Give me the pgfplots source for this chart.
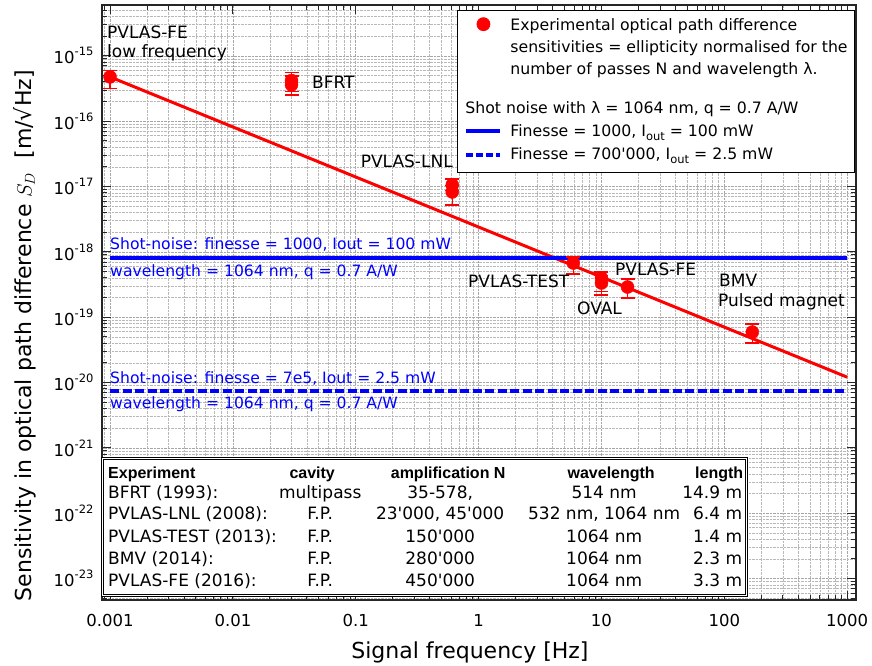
\documentclass[border=0pt]{standalone}
\usepackage{fontspec}
\setmainfont{DejaVu Sans}[Ligatures=TeXOff]
\newfontfamily\hdrfont{Liberation Sans}
\usepackage{pgfplots}
\pgfplotsset{compat=1.18}
\newcommand{\ylab}[1]{10\raisebox{8pt}{\fontsize{11.5}{12}\selectfont -#1}}
\newcommand{\sub}[1]{\raisebox{-3.5pt}{\fontsize{11.5}{12}\selectfont #1}}
\newcommand{\trow}[5]{\makebox[162pt][l]{#1}\makebox[100pt][c]{#2}\makebox[140pt][c]{#3}\makebox[188pt][c]{#4}\makebox[44pt][r]{#5}}
\begin{document}
\begin{tikzpicture}
\begin{axis}[
  scale only axis, width=754pt, height=595pt,
  xmode=log, ymode=log,
  xmin=8.6e-4, xmax=1.18e3,
  ymin=4.7e-24, ymax=6.0e-15,
  clip=false,
  xtick={0.001,0.01,0.1,1,10,100,1000},
  xticklabels={0.001,0.01,0.1,1,10,100,1000},
  minor xtick={9e-4,2e-3,3e-3,4e-3,5e-3,6e-3,7e-3,8e-3,9e-3,
    2e-2,3e-2,4e-2,5e-2,6e-2,7e-2,8e-2,9e-2,
    0.2,0.3,0.4,0.5,0.6,0.7,0.8,0.9,2,3,4,5,6,7,8,9,
    20,30,40,50,60,70,80,90,200,300,400,500,600,700,800,900},
  ytick={1e-23,1e-22,1e-21,1e-20,1e-19,1e-18,1e-17,1e-16,1e-15},
  yticklabels={\ylab{23},\ylab{22},\ylab{21},\ylab{20},\ylab{19},\ylab{18},\ylab{17},\ylab{16},\ylab{15}},
  minor ytick={5e-24,6e-24,7e-24,8e-24,9e-24,
    2e-23,3e-23,4e-23,5e-23,6e-23,7e-23,8e-23,9e-23,
    2e-22,3e-22,4e-22,5e-22,6e-22,7e-22,8e-22,9e-22,
    2e-21,3e-21,4e-21,5e-21,6e-21,7e-21,8e-21,9e-21,
    2e-20,3e-20,4e-20,5e-20,6e-20,7e-20,8e-20,9e-20,
    2e-19,3e-19,4e-19,5e-19,6e-19,7e-19,8e-19,9e-19,
    2e-18,3e-18,4e-18,5e-18,6e-18,7e-18,8e-18,9e-18,
    2e-17,3e-17,4e-17,5e-17,6e-17,7e-17,8e-17,9e-17,
    2e-16,3e-16,4e-16,5e-16,6e-16,7e-16,8e-16,9e-16,
    2e-15,3e-15,4e-15,5e-15},
  grid=both,
  major grid style={densely dotted, black!35, line width=0.6pt},
  minor grid style={densely dotted, black!28, line width=0.6pt},
  tick align=inside,
  xtick pos=both, ytick pos=both,
  xticklabel pos=lower, yticklabel pos=left,
  major tick length=9pt, minor tick length=5pt,
  tick style={black!85, line width=1pt},
  axis line style={black!85, line width=1.5pt},
  tick label style={font=\fontsize{16.5}{18}\selectfont},
  xticklabel style={yshift=-11pt},
  yticklabel style={xshift=-5pt},
  xlabel={Signal frequency [Hz]},
  ylabel={Sensitivity in optical path difference $S_D$\ \ [m/√Hz]},
  label style={font=\fontsize{22}{24}\selectfont},
  xlabel style={at={(axis description cs:0.488,0)}, anchor=base, yshift=-58pt},
  ylabel style={at={(axis description cs:-0.102,0.444)}, anchor=center},
  legend style={
    at={(rel axis cs:0.9987,0.9916)}, anchor=north east,
    draw=black, line width=0.8pt, fill=white,
    inner xsep=7pt, inner ysep=4pt,
    row sep=0pt, column sep=8pt,
    font=\fontsize{15.7}{22}\selectfont,
    nodes={inner sep=0pt, align=left},
  },
  legend cell align=left,
]
% legend entries
\addlegendimage{legend image code/.code={\fill[red] (17pt,21pt) circle (6.5pt);}}
\addlegendentry{\rule{0pt}{16pt}Experimental optical path difference\\sensitivities = ellipticity normalised for the\\number of passes N and wavelength λ.\rule[-6pt]{0pt}{0pt}}
\addlegendimage{empty legend}
\addlegendentry[text height=38pt, text depth=6pt]{\hspace*{-45pt}Shot noise with λ = 1064 nm, q = 0.7 A/W}
\addlegendimage{blue, line width=4pt, legend image code/.code={\draw (0pt,0pt)--(34pt,0pt);}}
\addlegendentry[text height=17pt, text depth=6pt]{Finesse = 1000, I\sub{out} = 100 mW}
\addlegendimage{blue, line width=4pt, dash pattern=on 7pt off 3pt, legend image code/.code={\draw (0pt,0pt)--(34pt,0pt);}}
\addlegendentry[text height=17pt, text depth=8pt]{Finesse = 700'000, I\sub{out} = 2.5 mW}

% fit line
\addplot[red, line width=3pt, forget plot] coordinates {(0.001,4.76e-16) (1000,1.21e-20)};
% shot noise lines
\addplot[blue, line width=4pt, forget plot] coordinates {(0.001,8.07e-19) (1000,8.07e-19)};
\addplot[blue, line width=4pt, dash pattern=on 9pt off 3.5pt, forget plot] coordinates {(0.001,7.41e-21) (1000,7.41e-21)};
% data points
\addplot[red, only marks, mark=*, mark size=6.5pt, forget plot,
  error bars/.cd, y dir=both, y explicit,
  error bar style={line width=1.3pt, red},
  error mark=-, error mark options={rotate=90, line width=1.3pt, red, mark size=7pt}]
coordinates {
 (0.001,4.76e-16) += (0,1.14e-16) -= (0,1.63e-16)
 (0.030,4.19e-16) += (0,1.36e-16) -= (0,1.35e-16)
 (0.030,3.6e-16) += (0,1.34e-16) -= (0,1.07e-16)
 (0.61,1.06e-17) += (0,2.5e-18) -= (0,2.0e-18)
 (0.61,8.26e-18) += (0,2.2e-18) -= (0,3.06e-18)
 (5.9,6.76e-19) += (0,1.59e-19) -= (0,2.16e-19)
 (10.0,3.98e-19) += (0,0.94e-19) -= (0,1.52e-19)
 (10.0,3.34e-19) += (0,0.96e-19) -= (0,1.15e-19)
 (16.3,2.9e-19) += (0,0.95e-19) -= (0,0.93e-19)
 (169,5.93e-20) += (0,1.93e-20) -= (0,1.9e-20)
};

% blue annotations
\node[blue, anchor=base west, inner sep=0pt, font=\fontsize{15.6}{17}\selectfont, yshift=8pt] at (axis cs:0.001,8.07e-19) {Shot-noise: finesse = 1000, Iout = 100 mW};
\node[blue, anchor=base west, inner sep=0pt, font=\fontsize{15.6}{17}\selectfont, yshift=-19pt] at (axis cs:0.001,8.07e-19) {wavelength = 1064 nm, q = 0.7 A/W};
\node[blue, anchor=base west, inner sep=0pt, font=\fontsize{15.6}{17}\selectfont, yshift=8pt] at (axis cs:0.001,7.41e-21) {Shot-noise: finesse = 7e5, Iout = 2.5 mW};
\node[blue, anchor=base west, inner sep=0pt, font=\fontsize{15.6}{17}\selectfont, yshift=-17pt] at (axis cs:0.001,7.41e-21) {wavelength = 1064 nm, q = 0.7 A/W};

% black annotations
\begin{scope}[every node/.style={inner sep=0pt, font=\fontsize{17}{19}\selectfont}]
\node[anchor=base west] at (rel axis cs:0.0066,0.9429) {PVLAS-FE};
\node[anchor=base west] at (rel axis cs:0.0066,0.9126) {low frequency};
\node[anchor=base west] at (rel axis cs:0.2785,0.8605) {BFRT};
\node[anchor=base east] at (rel axis cs:0.4655,0.7261) {PVLAS-LNL};
\node[anchor=base west] at (rel axis cs:0.4854,0.5244) {PVLAS-TEST};
\node[anchor=base west] at (rel axis cs:0.6300,0.4807) {OVAL};
\node[anchor=base west] at (rel axis cs:0.6804,0.5462) {PVLAS-FE};
\node[anchor=base west] at (rel axis cs:0.8183,0.5277) {BMV};
\node[anchor=base west] at (rel axis cs:0.8170,0.4941) {Pulsed magnet};
\end{scope}

% table
\node[draw=black, double, double distance=1.4pt, line width=0.7pt, fill=white,
  minimum width=644pt, minimum height=137pt, inner sep=0pt, anchor=south west]
  at (rel axis cs:0.0,0.0067) {};
\node[anchor=base west, inner sep=0pt, font=\hdrfont\bfseries\fontsize{16}{18}\selectfont] at (rel axis cs:0.00796,0.2034) {\makebox[154pt][l]{Experiment}\makebox[100pt][c]{cavity}\makebox[172pt][c]{amplification N}\makebox[154pt][c]{wavelength}\makebox[55pt][r]{length}};
\begin{scope}[every node/.style={anchor=base west, inner sep=0pt, font=\fontsize{17}{19}\selectfont}]
\node at (rel axis cs:0.00796,0.1706) {\trow{BFRT (1993):}{multipass}{35-578,}{514 nm}{14.9 m}};
\node at (rel axis cs:0.00796,0.1345) {\trow{PVLAS-LNL (2008):}{F.P.}{23'000, 45'000}{532 nm, 1064 nm}{6.4 m}};
\node at (rel axis cs:0.00796,0.0975) {\trow{PVLAS-TEST (2013):}{F.P.}{150'000}{1064 nm}{1.4 m}};
\node at (rel axis cs:0.00796,0.0605) {\trow{BMV (2014):}{F.P.}{280'000}{1064 nm}{2.3 m}};
\node at (rel axis cs:0.00796,0.0235) {\trow{PVLAS-FE (2016):}{F.P.}{450'000}{1064 nm}{3.3 m}};
\end{scope}

% overall picture extent
\path (rel axis cs:-0.13528,-0.10924) rectangle (rel axis cs:1.02122,1.00840);
\end{axis}
\end{tikzpicture}
\end{document}
